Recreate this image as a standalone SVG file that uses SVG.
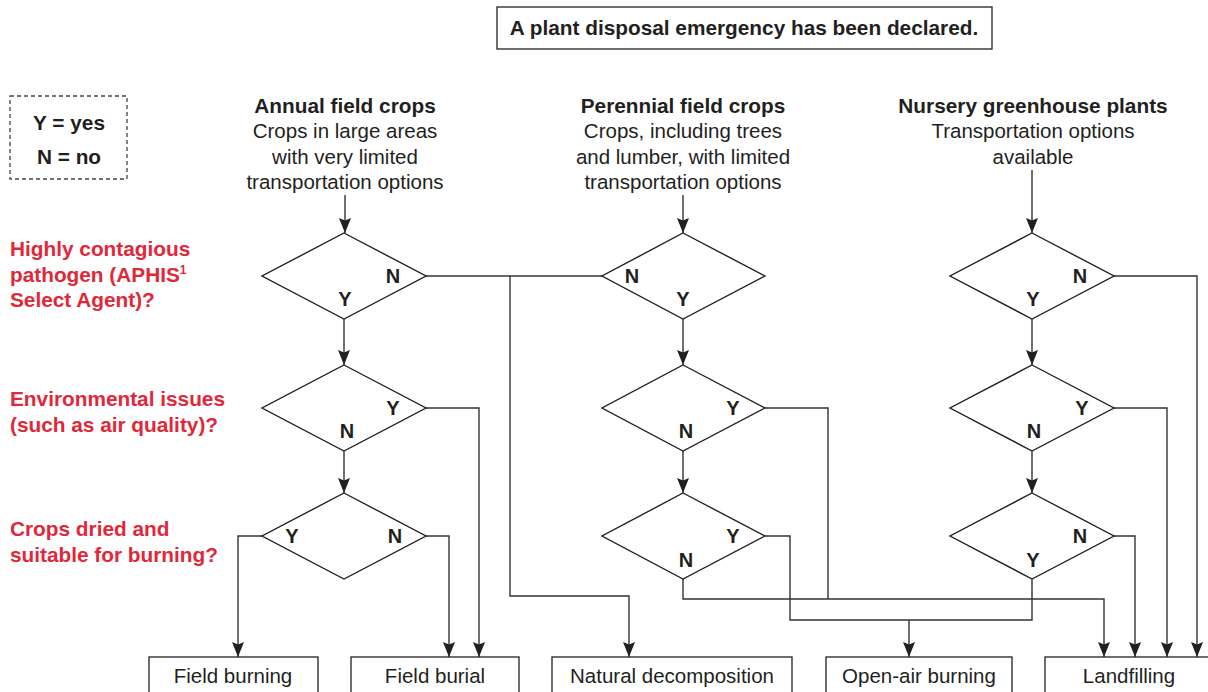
<svg xmlns="http://www.w3.org/2000/svg" width="1208" height="692" viewBox="0 0 1208 692">
<defs>
<style>
text{font-family:"Liberation Sans",Arial,sans-serif;fill:#231f20}
.b{font-weight:bold;font-size:20.8px}
.r{font-size:20.5px}
.q{font-weight:bold;font-size:20.8px;fill:#e0283a}
.lab{font-weight:bold;font-size:20px;text-anchor:middle}
.c{text-anchor:middle}
.dia{fill:#fff;stroke:#231f20;stroke-width:1.4}
.box{fill:#fff;stroke:#231f20;stroke-width:1.3}
.ln{fill:none;stroke:#333;stroke-width:1.4}
.ar{marker-end:url(#ah)}
</style>
<marker id="ah" markerUnits="userSpaceOnUse" markerWidth="16" markerHeight="13" refX="15" refY="6" orient="auto">
<path d="M0,0 L15,6 L0,12 L2.5,6 z" fill="#231f20"/>
</marker>
</defs>
<rect width="1208" height="692" fill="#fff"/>

<g id="title">
<rect class="box" x="497" y="7" width="495" height="42"/>
<text class="b c" x="744" y="35">A plant disposal emergency has been declared.</text>
</g>

<g id="legend">
<rect x="10" y="96" width="117" height="83" fill="none" stroke="#444" stroke-width="1.3" stroke-dasharray="4,3"/>
<text class="b c" x="69" y="130">Y = yes</text>
<text class="b c" x="69" y="164">N = no</text>
</g>

<g id="questions">
<text class="q" x="10" y="256">Highly contagious</text>
<text class="q" x="10" y="282">pathogen (APHIS<tspan font-size="12" dy="-8">1</tspan></text>
<text class="q" x="10" y="307">Select Agent)?</text>
<text class="q" x="10" y="406">Environmental issues</text>
<text class="q" x="10" y="432">(such as air quality)?</text>
<text class="q" x="10" y="536">Crops dried and</text>
<text class="q" x="10" y="562">suitable for burning?</text>
</g>

<g id="header-annual">
<text class="b c" x="345" y="113">Annual field crops</text>
<text class="r c" x="345" y="138">Crops in large areas</text>
<text class="r c" x="345" y="164">with very limited</text>
<text class="r c" x="345" y="189">transportation options</text>
</g>
<g id="header-perennial">
<text class="b c" x="683" y="113">Perennial field crops</text>
<text class="r c" x="683" y="138">Crops, including trees</text>
<text class="r c" x="683" y="164">and lumber, with limited</text>
<text class="r c" x="683" y="189">transportation options</text>
</g>
<g id="header-nursery">
<text class="b c" x="1033" y="113">Nursery greenhouse plants</text>
<text class="r c" x="1033" y="138">Transportation options</text>
<text class="r c" x="1033" y="164">available</text>
</g>

<g id="connectors">
<path class="ln ar" d="M345,195 V233"/>
<path class="ln ar" d="M344,319 V365"/>
<path class="ln ar" d="M344,451 V493"/>
<path class="ln ar" d="M683,195 V233"/>
<path class="ln ar" d="M683,319 V365"/>
<path class="ln ar" d="M683,451 V493"/>
<path class="ln ar" d="M1032,170 V233"/>
<path class="ln ar" d="M1032,319 V365"/>
<path class="ln ar" d="M1032,451 V493"/>
<path class="ln" d="M426,276 H602"/>
<path class="ln ar" d="M510,276 V596 H629 V657"/>
<path class="ln ar" d="M426,408 H479 V657"/>
<path class="ln ar" d="M426,536 H449 V657"/>
<path class="ln ar" d="M262,536 H238 V657"/>
<path class="ln" d="M765,408 H828 V599"/>
<path class="ln ar" d="M683,579 V599 H1104 V657"/>
<path class="ln" d="M765,536 H790 V620 H1032 V579"/>
<path class="ln ar" d="M909,620 V657"/>
<path class="ln ar" d="M1114,276 H1197 V657"/>
<path class="ln ar" d="M1114,408 H1167 V657"/>
<path class="ln ar" d="M1114,536 H1135 V657"/>
</g>

<g id="annual-q1">
<polygon class="dia" points="344,233 426,276 344,319 262,276"/>
<text class="lab" x="393" y="283">N</text>
<text class="lab" x="345" y="306">Y</text>
</g>
<g id="annual-q2">
<polygon class="dia" points="344,365 426,408 344,451 262,408"/>
<text class="lab" x="393" y="415">Y</text>
<text class="lab" x="347" y="438">N</text>
</g>
<g id="annual-q3">
<polygon class="dia" points="344,493 426,536 344,579 262,536"/>
<text class="lab" x="292" y="543">Y</text>
<text class="lab" x="395" y="543">N</text>
</g>

<g id="perennial-q1">
<polygon class="dia" points="683,233 765,276 683,319 602,276"/>
<text class="lab" x="632" y="283">N</text>
<text class="lab" x="683" y="306">Y</text>
</g>
<g id="perennial-q2">
<polygon class="dia" points="683,365 765,408 683,451 602,408"/>
<text class="lab" x="733" y="415">Y</text>
<text class="lab" x="686" y="438">N</text>
</g>
<g id="perennial-q3">
<polygon class="dia" points="683,493 765,536 683,579 602,536"/>
<text class="lab" x="733" y="543">Y</text>
<text class="lab" x="686" y="567">N</text>
</g>

<g id="nursery-q1">
<polygon class="dia" points="1032,233 1114,276 1032,319 950,276"/>
<text class="lab" x="1080" y="283">N</text>
<text class="lab" x="1033" y="306">Y</text>
</g>
<g id="nursery-q2">
<polygon class="dia" points="1032,365 1114,408 1032,451 950,408"/>
<text class="lab" x="1082" y="415">Y</text>
<text class="lab" x="1034" y="438">N</text>
</g>
<g id="nursery-q3">
<polygon class="dia" points="1032,493 1114,536 1032,579 950,536"/>
<text class="lab" x="1080" y="543">N</text>
<text class="lab" x="1033" y="567">Y</text>
</g>

<g id="field-burning">
<rect class="box" x="149" y="657" width="169" height="50"/>
<text class="r c" x="233" y="683">Field burning</text>
</g>
<g id="field-burial">
<rect class="box" x="351" y="657" width="168" height="50"/>
<text class="r c" x="435" y="683">Field burial</text>
</g>
<g id="natural-decomposition">
<rect class="box" x="552" y="657" width="240" height="50"/>
<text class="r c" x="672" y="683">Natural decomposition</text>
</g>
<g id="open-air-burning">
<rect class="box" x="826" y="657" width="186" height="50"/>
<text class="r c" x="919" y="683">Open-air burning</text>
</g>
<g id="landfilling">
<rect class="box" x="1045" y="657" width="170" height="50"/>
<text class="r c" x="1129" y="683">Landfilling</text>
</g>
</svg>
